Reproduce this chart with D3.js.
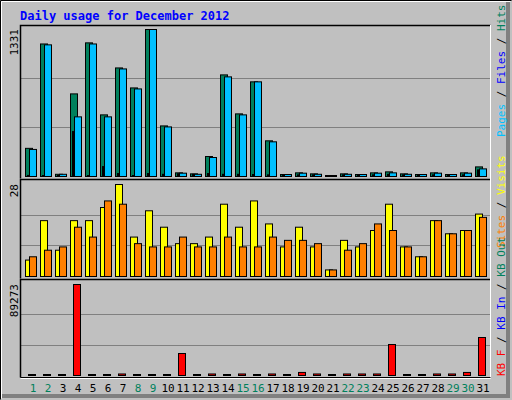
<!DOCTYPE html>
<html>
<head>
<meta charset="utf-8">
<script src="https://cdn.jsdelivr.net/npm/d3@7"></script>
<style>
  body { margin: 0; background: #fff; }
  text { font-family: "DejaVu Sans Mono", monospace; }
</style>
</head>
<body>
<svg id="viz"></svg>
<script>
// ---------------------------------------------------------------
// DATA

var days = d3.range(1, 32);
var weekendDays = [1, 2, 8, 9, 15, 16, 22, 23, 29, 30];

var hits  = [255, 1200, 20, 748, 1210, 558, 983, 802, 1331, 458, 33, 24, 181, 920, 567, 857, 323, 18, 33, 24, 9, 24, 18, 33, 42, 24, 18, 33, 18, 33, 87];
var files = [245, 1192, 20, 540, 1200, 540, 974, 793, 1331, 449, 30, 20, 172, 902, 558, 857, 314, 18, 30, 20, 9, 20, 18, 30, 33, 20, 18, 30, 18, 30, 69];
var pages = [10, 8, 10, 407, 8, 90, 27, 8, 27, 20, 25, 20, 27, 20, 20, 18, 15, 8, 15, 15, 5, 15, 15, 15, 20, 15, 8, 15, 8, 15, 60];

var visits = [5, 17, 8, 17, 17, 21, 28, 12, 20, 15, 10, 10, 12, 22, 15, 23, 16, 9, 15, 9, 2, 11, 9, 14, 22, 9, 6, 17, 13, 14, 19];
var sites  = [6, 8, 9, 15, 12, 23, 22, 10, 9, 9, 12, 9, 9, 12, 9, 9, 12, 11, 11, 10, 2, 8, 10, 16, 14, 9, 6, 17, 13, 14, 18];

var kbF = [0, 0, 0, 89273, 0, 0, 1500, 0, 0, 0, 21580, 0, 1500, 0, 1500, 0, 1500, 0, 3000, 1500, 0, 1500, 1500, 1500, 30400, 0, 0, 1500, 1500, 3000, 37280];

var maxLabels = ["1331", "28", "89273"];

// ---------------------------------------------------------------
// SETUP

var w = 512, h = 400;
var viz = d3.select("#viz").attr("width", w).attr("height", h);

// background with bevel
viz.append("rect").attr("x", 0).attr("y", 0).attr("width", w).attr("height", h).attr("fill", "#c0c0c0");
viz.append("path").attr("d", "M0.5,399.5 V0.5 H511.5").attr("stroke", "#000").attr("fill", "none");
viz.append("path").attr("d", "M1.5,398.5 V1.5 H510.5").attr("stroke", "#fff").attr("fill", "none");
viz.append("path").attr("d", "M2,396 H508 V2").attr("stroke", "#808080").attr("stroke-width", 4).attr("fill", "none");

viz.append("text")
  .attr("x", 20).attr("y", 20)
  .attr("fill", "#0000ff").attr("font-size", 12).attr("font-weight", "bold")
  .text("Daily usage for December 2012");

var x = d3.scaleBand().domain(days).range([25, 490]).paddingInner(0);

// panels: top y, bottom y of frame, base of bars, top of max
var panels = [
  {top: 25, bottom: 179, base: 176, peak: 29, max: 1331},
  {top: 179, bottom: 279, base: 276, peak: 184, max: 28},
  {top: 279, bottom: 378, base: 375, peak: 284, max: 89273}
];

panels.forEach(function(p, i) {
  viz.append("rect").attr("x", 20.5).attr("y", p.top + 0.5).attr("width", 470).attr("height", p.bottom - p.top)
    .attr("fill", "#c0c0c0");
  p.y = d3.scaleLinear().domain([0, p.max]).range([p.base, p.peak]);
  // grid lines at 1/3 and 2/3
  [1 / 3, 2 / 3].forEach(function(f) {
    viz.append("line").attr("x1", 21).attr("x2", 490)
      .attr("y1", Math.round(p.y(p.max * f)) + 0.5).attr("y2", Math.round(p.y(p.max * f)) + 0.5)
      .attr("stroke", "#808080");
  });
  viz.append("text")
    .attr("transform", "translate(18," + p.peak + ") rotate(-90)")
    .attr("text-anchor", "end").attr("font-size", 11).attr("fill", "#000")
    .attr("font-family", "DejaVu Sans, sans-serif")
    .text(maxLabels[i]);
});

function bars(data, panel, offset, width, color, cls) {
  viz.selectAll("rect." + cls)
    .data(data)
    .enter()
    .append("rect")
    .attr("class", cls)
    .attr("x", function(d, i) { return x(days[i]) + offset + 0.5; })
    .attr("y", function(d) { return Math.min(panel.y(d), panel.base - 1) + 0.5; })
    .attr("width", width)
    .attr("height", function(d) { return Math.max(panel.base - panel.y(d), 1); })
    .attr("fill", color)
    .attr("stroke", "#000");
}

// top panel
bars(hits, panels[0], 0, 7, "#00805c", "hits");
bars(pages, panels[0], 2, 1, "#0000ff", "pages");
bars(files, panels[0], 4, 7, "#00c0ff", "files");

// middle panel
bars(visits, panels[1], 0, 7, "#ffff00", "visits");
bars(sites, panels[1], 4, 7, "#ff8000", "sites");

// bottom panel
viz.selectAll("rect.kbf")
  .data(kbF)
  .enter()
  .append("rect")
  .attr("x", function(d, i) { return x(days[i]) + 3.5; })
  .attr("y", function(d) { return Math.min(panels[2].y(d), panels[2].base - 1) + 0.5; })
  .attr("width", 7)
  .attr("height", function(d) { return Math.max(panels[2].base - panels[2].y(d), 1); })
  .attr("fill", "#ff0000")
  .attr("stroke", "#000");

// frame edges (black top/left, white bottom/right)
panels.forEach(function(p) {
  viz.append("path").attr("d", "M20.5," + (p.bottom - 0.5) + " V" + (p.top + 0.5) + " H490.5")
    .attr("stroke", "#000").attr("stroke-width", 1.5).attr("fill", "none");
});
viz.append("path").attr("d", "M20.5,378.5 H490.5 V25").attr("stroke", "#fff").attr("fill", "none");
viz.append("path").attr("d", "M20.5,377.5 H490.5").attr("stroke", "#000").attr("fill", "none");

// day labels
viz.selectAll("text.day")
  .data(days)
  .enter()
  .append("text")
  .attr("class", "day")
  .attr("x", function(d) { return x(d) + 8; })
  .attr("y", 392)
  .attr("text-anchor", "middle")
  .attr("font-size", 11)
  .attr("font-family", "DejaVu Sans, sans-serif")
  .attr("fill", function(d) { return weekendDays.indexOf(d) >= 0 ? "#00805c" : "#000"; })
  .text(function(d) { return d; });

// right-side legends
function legend(y, parts) {
  var t = viz.append("text")
    .attr("transform", "translate(505," + y + ") rotate(-90)")
    .attr("font-size", 11);
  parts.forEach(function(p) {
    t.append("tspan").attr("fill", p[1]).text(p[0]);
  });
}
legend(137, [["Pages", "#00c0ff"], [" / ", "#000"], ["Files", "#0000ff"], [" / ", "#000"], ["Hits", "#00805c"]]);
legend(248, [["Sites", "#ff8000"], [" / ", "#000"], ["Visits", "#ffff00"]]);
legend(376, [["KB F", "#ff0000"], [" / ", "#000"], ["KB In", "#0000ff"], [" / ", "#000"], ["KB Out", "#00805c"]]);
</script>
</body>
</html>
